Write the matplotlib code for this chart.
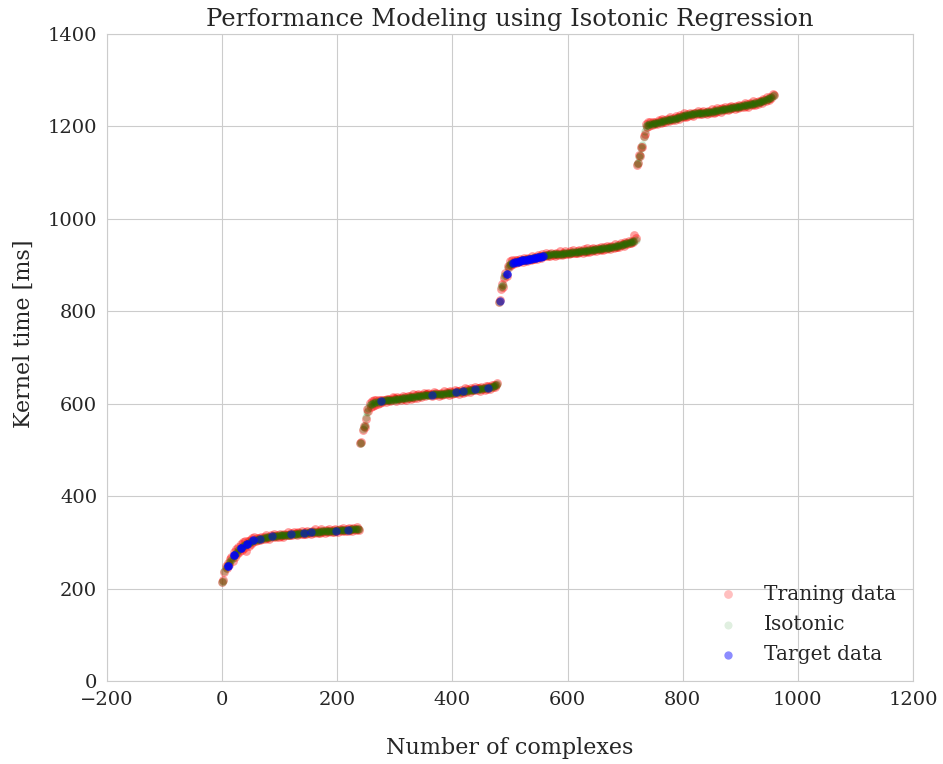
import numpy as np
import matplotlib
matplotlib.use("Agg")
import matplotlib.pyplot as plt
import seaborn as sns

# measured kernel times, one sample every 2 complexes, 4 groups of 240
train_1 = [214, 218, 236, 248, 244, 256, 250, 264, 268, 260, 279, 268, 286, 274, 291, 280, 296, 284,
           300, 288, 302, 282, 304, 292, 306, 296, 310, 300, 311, 302, 309, 305, 310, 306, 311, 307,
           312, 307, 315, 310, 312, 308, 315, 313, 311, 318, 313, 311, 316, 312, 319, 314, 317, 312,
           319, 317, 315, 322, 316, 315, 320, 315, 322, 318, 320, 315, 322, 320, 318, 325, 319, 318,
           323, 318, 325, 321, 323, 318, 325, 322, 321, 328, 322, 320, 325, 320, 328, 323, 325, 320,
           327, 324, 323, 330, 324, 322, 327, 322, 329, 324, 327, 322, 329, 326, 324, 331, 326, 324,
           329, 324, 331, 326, 329, 324, 331, 328, 326, 334, 328, 326]
iso_1 = [215, 217, 238, 245, 248, 250, 255, 259, 262, 266, 270, 274, 277, 280, 283, 286, 288, 290,
         292, 294, 295, 296, 297, 299, 300, 302, 303, 304, 305, 306, 306, 307, 307, 308, 308, 309,
         310, 310, 311, 311, 311, 312, 312, 313, 313, 313, 314, 314, 314, 315, 315, 315, 316, 316,
         316, 317, 317, 317, 317, 318, 318, 318, 318, 319, 319, 319, 319, 320, 320, 320, 320, 321,
         321, 321, 321, 322, 322, 322, 322, 322, 323, 323, 323, 323, 323, 323, 324, 324, 324, 324,
         324, 324, 325, 325, 325, 325, 325, 325, 325, 325, 326, 326, 326, 326, 326, 326, 327, 327,
         327, 327, 327, 327, 328, 328, 328, 328, 328, 329, 329, 329]

train_2 = [514, 517, 544, 552, 550, 568, 588, 584, 602, 594, 606, 596, 607, 598, 608, 600, 609, 601,
           607, 604, 609, 608, 603, 611, 607, 610, 605, 609, 614, 612, 611, 606, 614, 610, 613, 608,
           612, 617, 610, 614, 609, 617, 613, 616, 611, 615, 620, 613, 619, 612, 620, 616, 619, 614,
           618, 623, 616, 621, 620, 623, 618, 621, 616, 620, 625, 618, 624, 622, 617, 620, 624, 619,
           622, 627, 621, 626, 624, 619, 628, 626, 621, 624, 630, 623, 628, 627, 622, 630, 626, 624,
           627, 633, 626, 631, 630, 625, 633, 629, 632, 630, 636, 629, 634, 633, 628, 636, 632, 635,
           630, 639, 632, 638, 636, 632, 641, 637, 641, 637, 641, 645]
iso_2 = [515, 516, 546, 549, 553, 572, 583, 590, 597, 599, 600, 601, 602, 603, 603, 604, 604, 605,
         605, 606, 606, 607, 607, 607, 608, 608, 608, 609, 609, 609, 610, 610, 610, 611, 611, 611,
         612, 612, 612, 613, 613, 613, 614, 614, 614, 615, 615, 615, 616, 616, 616, 617, 617, 617,
         618, 618, 618, 618, 619, 619, 619, 619, 619, 620, 620, 620, 621, 621, 621, 621, 622, 622,
         622, 622, 623, 623, 623, 623, 624, 624, 624, 624, 625, 625, 625, 626, 626, 626, 627, 627,
         627, 628, 628, 628, 629, 629, 629, 630, 630, 630, 631, 631, 631, 632, 632, 632, 633, 633,
         633, 634, 634, 635, 635, 636, 637, 638, 639, 640, 641, 642]

train_3 = [820, 825, 849, 858, 853, 872, 883, 876, 898, 896, 909, 900, 910, 902, 910, 904, 910, 908,
           907, 914, 912, 907, 915, 911, 913, 909, 916, 914, 912, 920, 914, 913, 918, 914, 921, 917,
           919, 915, 923, 920, 919, 926, 921, 919, 924, 920, 927, 922, 924, 920, 927, 924, 922, 930,
           924, 922, 927, 923, 930, 925, 927, 923, 930, 927, 926, 933, 927, 926, 931, 926, 933, 929,
           931, 926, 934, 931, 929, 936, 931, 929, 934, 930, 937, 932, 935, 930, 937, 935, 933, 940,
           935, 933, 939, 934, 941, 937, 939, 935, 942, 940, 938, 946, 940, 939, 944, 940, 947, 943,
           946, 941, 949, 947, 945, 953, 948, 947, 953, 949, 965, 959]
iso_3 = [821, 823, 852, 854, 856, 876, 879, 880, 893, 900, 903, 904, 905, 905, 906, 906, 907, 908,
         909, 909, 910, 910, 911, 912, 912, 913, 913, 914, 914, 915, 915, 916, 916, 917, 917, 918,
         918, 919, 920, 920, 921, 921, 922, 922, 922, 923, 923, 923, 923, 924, 924, 924, 924, 925,
         925, 925, 925, 926, 926, 926, 926, 927, 927, 927, 928, 928, 928, 929, 929, 929, 929, 930,
         930, 930, 931, 931, 931, 931, 932, 932, 932, 933, 933, 933, 934, 934, 934, 935, 935, 935,
         936, 936, 937, 937, 937, 938, 938, 939, 939, 940, 940, 941, 941, 942, 942, 943, 943, 944,
         945, 945, 946, 947, 947, 948, 949, 950, 951, 952, 953, 955]

train_4 = [1117, 1121, 1138, 1135, 1156, 1155, 1180, 1184, 1205, 1199, 1210, 1201, 1210, 1203, 1210,
           1205, 1210, 1208, 1206, 1214, 1212, 1207, 1215, 1210, 1213, 1209, 1216, 1214, 1212, 1220,
           1215, 1213, 1219, 1214, 1222, 1218, 1220, 1216, 1224, 1222, 1221, 1228, 1223, 1221, 1227,
           1222, 1230, 1225, 1227, 1223, 1230, 1228, 1226, 1233, 1228, 1226, 1231, 1227, 1234, 1229,
           1232, 1227, 1234, 1232, 1230, 1237, 1232, 1230, 1235, 1231, 1239, 1234, 1237, 1232, 1239,
           1237, 1235, 1242, 1237, 1235, 1241, 1237, 1244, 1239, 1242, 1237, 1244, 1242, 1240, 1247,
           1244, 1242, 1247, 1243, 1250, 1245, 1248, 1243, 1251, 1248, 1247, 1254, 1249, 1247, 1253,
           1248, 1256, 1252, 1255, 1251, 1259, 1257, 1256, 1264, 1259, 1258, 1264, 1261, 1270, 1269]
iso_4 = [1118, 1120, 1134, 1138, 1153, 1160, 1178, 1190, 1200, 1203, 1204, 1205, 1205, 1206, 1206,
         1207, 1207, 1208, 1208, 1209, 1210, 1210, 1211, 1211, 1212, 1213, 1213, 1214, 1214, 1215,
         1216, 1216, 1217, 1217, 1218, 1219, 1219, 1220, 1221, 1222, 1223, 1223, 1224, 1224, 1225,
         1225, 1226, 1226, 1226, 1227, 1227, 1228, 1228, 1228, 1229, 1229, 1229, 1230, 1230, 1230,
         1231, 1231, 1231, 1232, 1232, 1232, 1233, 1233, 1233, 1234, 1235, 1235, 1236, 1236, 1236,
         1237, 1237, 1237, 1238, 1238, 1239, 1240, 1240, 1240, 1241, 1241, 1241, 1242, 1242, 1242,
         1245, 1245, 1245, 1246, 1246, 1246, 1247, 1247, 1248, 1248, 1249, 1249, 1250, 1250, 1251,
         1251, 1252, 1253, 1254, 1255, 1256, 1257, 1258, 1259, 1260, 1261, 1262, 1264, 1266, 1268]

# predicted points for the target set (runs = repeated measurements)
target_x = [10, 21, 32, 43, 54, 66, 87, 120, 142, 154, 198, 219,
            276, 364, 407, 419, 440, 462,
            482, 494, 505, 509, 513, 517, 521, 525, 529, 533, 537, 541, 545, 549, 553, 558]
target_y = [249, 272, 288, 296, 305, 307, 313, 318, 321, 322, 325, 327,
            605, 619, 625, 627, 631, 635,
            823, 880, 905, 906, 907, 909, 910, 911, 912, 913, 914, 915, 916, 917, 918, 920]
target_runs = [3, 3, 3, 3, 2, 1, 1, 1, 1, 1, 1, 1,
               1, 1, 1, 1, 1, 1,
               1, 2, 2, 2, 2, 2, 2, 2, 2, 2, 2, 2, 2, 2, 2, 2]


def main():
    sns.set_style("whitegrid")
    plt.rcParams['font.family'] = ['DejaVu Serif']

    complexes = np.arange(0, 960, 2)
    train = np.concatenate([train_1, train_2, train_3, train_4])
    iso = np.concatenate([iso_1, iso_2, iso_3, iso_4])
    tx = np.repeat(target_x, target_runs)
    ty = np.repeat(target_y, target_runs)

    fig = plt.figure(figsize=(9.43, 7.64), dpi=100)
    ax = fig.add_axes([0.1135, 0.1086, 0.8547, 0.8469])

    ax.scatter(complexes, train, s=40, c='r', alpha=0.38, linewidths=0, label="Traning data")
    ax.scatter(complexes, iso, s=34, c='g', alpha=0.22, linewidths=0, label="Isotonic")
    ax.scatter(tx, ty, s=36, c='b', alpha=0.5, linewidths=0, label="Target data")

    ax.set_xlim(-200, 1200)
    ax.set_ylim(0, 1400)
    ax.tick_params(labelsize=14, colors='#262626')
    ax.set_xlabel("Number of complexes", fontsize=16, labelpad=20, color='#262626')
    ax.set_ylabel("Kernel time [ms]", fontsize=16, color='#262626')
    ax.yaxis.set_label_coords(-0.0893, 0.536)
    ax.set_title("Performance Modeling using Isotonic Regression", fontsize=17.5,
                 color='#262626', pad=6)
    for s in ax.spines.values():
        s.set_color('#cccccc')

    leg = ax.legend(loc='lower right', frameon=False, scatterpoints=1, fontsize=14.5,
                    labelspacing=0.55, borderaxespad=0.45)
    for h, a in zip(leg.legend_handles, [0.25, 0.12, 0.45]):
        h.set_alpha(a)

    fig.savefig("out.png", dpi=100)


main()
